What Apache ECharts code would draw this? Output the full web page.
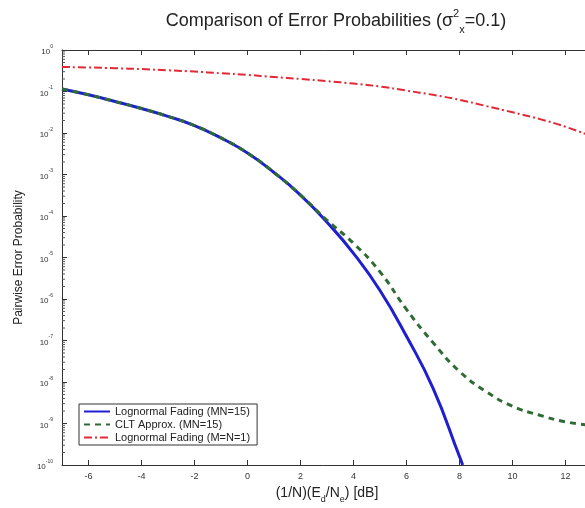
<!DOCTYPE html>
<html>
<head>
<meta charset="utf-8">
<script src="https://cdn.jsdelivr.net/npm/echarts@6/dist/echarts.min.js"></script>
<style>
  html, body { margin: 0; padding: 0; background: #fff; }
  #chart { width: 585px; height: 508px; }
</style>
</head>
<body>
<div id="chart"></div>
<script>
// x positions (dB)
var snrBlue = [-7, -6, -5, -4, -3, -2, -1, 0, 1, 2, 3, 4, 5, 6, 7, 8, 8.12];
var snrRest = [-7, -6, -5, -4, -3, -2, -1, 0, 1, 2, 3, 4, 5, 6, 7, 8, 9, 10, 11, 12, 13];

// pairwise error probabilities
var lognormal15 = [0.115, 0.0832, 0.0575, 0.0389, 0.0251, 0.0151, 7.6e-3, 3.3e-3, 1.12e-3, 3.2e-4,
    7.1e-5, 1.26e-5, 1.6e-6, 1.26e-7, 7.1e-9, 1.6e-10, 1e-10];
var clt15 = [0.115, 0.0832, 0.0575, 0.0389, 0.0251, 0.0151, 7.6e-3, 3.3e-3, 1.12e-3, 3.2e-4,
    7.9e-5, 2.2e-5, 4.5e-6, 5.6e-7, 8.9e-8, 1.8e-8, 5.9e-9, 2.6e-9, 1.6e-9, 1.1e-9, 8.9e-10];
var lognormal1 = [0.389, 0.380, 0.363, 0.347, 0.324, 0.302, 0.275, 0.251, 0.224, 0.200,
    0.178, 0.155, 0.132, 0.105, 0.083, 0.063, 0.0447, 0.0316, 0.0219, 0.0141, 0.0083];

var xTicks = [-6, -4, -2, 0, 2, 4, 6, 8, 10, 12];
var decades = [-10, -9, -8, -7, -6, -5, -4, -3, -2, -1];
var minorMult = [2, 3, 4, 5, 6, 7, 8, 9];
var seriesNames = ['Lognormal Fading (MN=15)', 'CLT Approx. (MN=15)', 'Lognormal Fading (M=N=1)'];

function pairs(xs, ys) {
    return xs.map(function (x, i) { return [x, ys[i]]; });
}

// minor log ticks (matlab style), drawn at left edge through the axis scale
var minorTicks = [];
decades.forEach(function (d) {
    minorMult.forEach(function (m) { minorTicks.push([-7, m * Math.pow(10, d)]); });
});

var font = '"Liberation Sans", Arial, sans-serif';
var axisColor = '#333';

var chart = echarts.init(document.getElementById('chart'));
var option = {
    backgroundColor: '#fff',
    animation: false,
    textStyle: { fontFamily: font },
    title: {
        text: 'Comparison of Error Probabilities (σ{sup|2}{sub|x}=0.1)',
        left: 331,
        top: 3,
        textAlign: 'center',
        textStyle: {
            fontSize: 18,
            fontWeight: 'normal',
            color: '#222',
            fontFamily: font,
            rich: {
                sup: { fontSize: 11, verticalAlign: 'top', lineHeight: 22, color: '#222' },
                sub: { fontSize: 11, verticalAlign: 'bottom', lineHeight: 27, color: '#222' }
            }
        }
    },
    grid: { left: 62, top: 50, right: -7, bottom: 43, outerBoundsMode: 'none' },
    legend: {
        data: seriesNames,
        orient: 'vertical',
        left: 79,
        top: 404,
        itemWidth: 26,
        itemHeight: 10,
        itemGap: 2,
        padding: [2, 7, 2, 4],
        borderColor: '#333',
        borderWidth: 1,
        borderRadius: 0,
        backgroundColor: '#fff',
        itemStyle: { opacity: 0 },
        textStyle: { fontSize: 11, color: '#222', fontFamily: font }
    },
    xAxis: [{
        type: 'value',
        min: -7,
        max: 13,
        name: '(1/N)(E{sub|d}/N{sub|e}) [dB]',
        nameLocation: 'middle',
        nameGap: 17,
        nameTextStyle: {
            fontSize: 14, color: '#222',
            rich: { sub: { fontSize: 9, verticalAlign: 'bottom', lineHeight: 22, color: '#222' } }
        },
        axisLine: { onZero: false, lineStyle: { color: axisColor } },
        axisTick: { inside: true, length: 5, customValues: xTicks, lineStyle: { color: axisColor } },
        axisLabel: { customValues: xTicks, fontSize: 9, color: '#333', margin: 7 },
        splitLine: { show: false }
    }, {
        type: 'value',
        position: 'top',
        min: -7,
        max: 13,
        axisLine: { onZero: false, lineStyle: { color: axisColor } },
        axisTick: { inside: true, length: 5, customValues: xTicks, lineStyle: { color: axisColor } },
        axisLabel: { show: false },
        splitLine: { show: false }
    }],
    yAxis: [{
        type: 'log',
        logBase: 10,
        min: 1e-10,
        max: 1,
        interval: 1,
        name: 'Pairwise Error Probability',
        nameLocation: 'middle',
        nameGap: 37,
        nameTextStyle: { fontSize: 12, color: '#222' },
        axisLine: { show: true, onZero: false, lineStyle: { color: axisColor } },
        axisTick: { show: true, inside: true, length: 5, lineStyle: { color: axisColor } },
        axisLabel: {
            fontSize: 8,
            color: '#333',
            margin: 9,
            formatter: function (v) {
                var e = Math.round(Math.log10(v));
                return '{b|10}{s|' + e + '}';
            },
            rich: {
                b: { fontSize: 8, color: '#333', verticalAlign: 'bottom', lineHeight: 12 },
                s: { fontSize: 5, color: '#333', verticalAlign: 'top', lineHeight: 12 }
            }
        },
        splitLine: { show: false }
    }, {
        type: 'log',
        logBase: 10,
        min: 1e-10,
        max: 1,
        interval: 1,
        position: 'right',
        axisLine: { show: true, onZero: false, lineStyle: { color: axisColor } },
        axisTick: { show: true, inside: true, length: 5, lineStyle: { color: axisColor } },
        axisLabel: { show: false },
        splitLine: { show: false }
    }],
    series: [{
        name: seriesNames[0],
        type: 'line',
        data: pairs(snrBlue, lognormal15),
        smooth: true,
        symbol: 'none',
        z: 3,
        lineStyle: { color: '#1f1fd0', width: 3 },
        itemStyle: { color: '#1f1fd0' }
    }, {
        name: seriesNames[1],
        type: 'line',
        data: pairs(snrRest, clt15),
        smooth: true,
        symbol: 'none',
        z: 4,
        lineStyle: { color: '#2f6b34', width: 3, type: [6, 5] },
        itemStyle: { color: '#2f6b34' }
    }, {
        name: seriesNames[2],
        type: 'line',
        data: pairs(snrRest, lognormal1),
        smooth: true,
        symbol: 'none',
        z: 2,
        lineStyle: { color: '#e02a35', width: 2, type: [8, 3, 2, 3] },
        itemStyle: { color: '#e02a35' }
    }, {
        name: 'minor',
        type: 'custom',
        silent: true,
        data: minorTicks,
        renderItem: function (params, api) {
            var p = api.coord([api.value(0), api.value(1)]);
            return {
                type: 'line',
                shape: { x1: p[0], y1: p[1], x2: p[0] + 3, y2: p[1] },
                style: { stroke: '#555', lineWidth: 1 }
            };
        }
    }]
};
chart.setOption(option);
</script>
</body>
</html>
